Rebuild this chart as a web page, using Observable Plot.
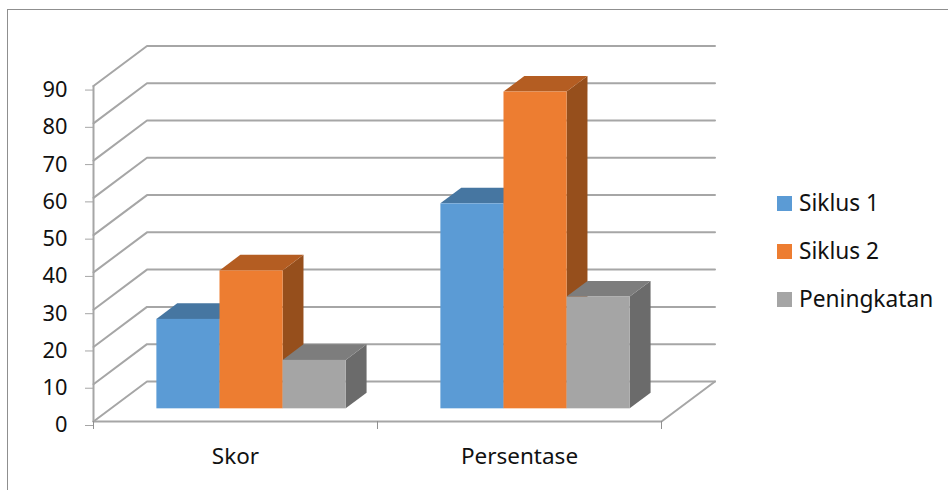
<!DOCTYPE html>
<html>
<head>
<meta charset="utf-8">
<script src="https://cdn.jsdelivr.net/npm/d3@7"></script>
<script src="https://cdn.jsdelivr.net/npm/@observablehq/plot@0.6"></script>
<style>
  html, body { margin: 0; padding: 0; background: #fff; }
  #chart { position: relative; width: 948px; height: 490px; overflow: hidden; font-family: "Noto Sans", sans-serif; }
  #chart svg { position: absolute; left: 0; top: 0; }
  #frame { position: absolute; left: 7px; top: 9px; width: 950px; height: 490px; border: 1px solid #8f8f8f; }
  .key { position: absolute; left: 777px; height: 15px; }
  .key i { position: absolute; left: 0; top: 0; width: 15px; height: 15px; }
  .key span { position: absolute; left: 22px; top: -8px; font-size: 22.7px; line-height: 30px; color: #111; white-space: nowrap; }
</style>
</head>
<body>
<div id="chart"><div id="frame"></div></div>
<script>
const categories = ["Skor", "Persentase"];
const seriesNames = ["Siklus 1", "Siklus 2", "Peningkatan"];
const siklus1 = [24, 55];
const siklus2 = [37, 85];
const peningkatan = [13, 30];
const yTicks = [0, 10, 20, 30, 40, 50, 60, 70, 80, 90];

const frontColors = ["#5b9bd5", "#ed7d31", "#a5a5a5"];
const topColors = ["#4676a1", "#b45d22", "#7d7d7d"];
const sideColors = ["#3d6a92", "#964f1c", "#6b6b6b"];

// Oblique projection: moving one unit back in depth shifts by these amounts in data units.
const depthX = 0.1884;
const depthY = 10.75;
const barFront = 0.3;
const barBack = 0.69;
const barLift = 3.4;
const barWidth = 2 / 9;
const groupMargin = 1 / 6;

const series = [siklus1, siklus2, peningkatan];

// Wall and floor lines: side wall diagonal followed by the back wall run.
const gridPoints = yTicks.flatMap((v) => [
  {x: 0, y: v, z: v},
  {x: depthX, y: v + depthY, z: v},
  {x: categories.length + depthX, y: v + depthY, z: v}
]);
const floorEdge = [
  {x: 0, y: 0},
  {x: categories.length, y: 0},
  {x: categories.length + depthX, y: depthY}
];
const valueAxisLine = [
  {x: 0, y: 0},
  {x: 0, y: 90}
];

// One 3D column: side face, top face, then front face, painted back to front.
function columnMarks(value, s, c) {
  const x1 = c + groupMargin + s * barWidth;
  const x2 = x1 + barWidth;
  const fx = barFront * depthX, bx = barBack * depthX;
  const fy = barLift, by = barLift + (barBack - barFront) * depthY;
  const side = [
    {x1: x2 + fx, y1: fy, x2: x2 + fx, y2: fy + value},
    {x1: x2 + bx, y1: by, x2: x2 + bx, y2: by + value}
  ];
  const top = [
    {x1: x1 + fx, y1: fy + value, x2: x2 + fx, y2: fy + value},
    {x1: x1 + bx, y1: by + value, x2: x2 + bx, y2: by + value}
  ];
  const faceOpts = {x1: "x1", y1: "y1", x2: "x2", y2: "y2"};
  return [
    Plot.area(side, {...faceOpts, fill: sideColors[s]}),
    Plot.area(top, {...faceOpts, fill: topColors[s]}),
    Plot.rect([{}], {
      x1: () => x1 + fx, x2: () => x2 + fx,
      y1: () => fy, y2: () => fy + value,
      fill: frontColors[s]
    })
  ];
}

const columns = categories.flatMap((_, c) =>
  series.flatMap((values, s) => columnMarks(values[c], s, c))
);

const gridStyle = {stroke: "#a6a6a6", strokeWidth: 2};

const plot = Plot.plot({
  width: 948,
  height: 490,
  margin: 0,
  style: {background: "transparent", fontFamily: '"Noto Sans", sans-serif'},
  x: {type: "linear", domain: [0, 2 + depthX], range: [93, 714.5]},
  y: {domain: [0, 90 + depthY], range: [421, 45.5]},
  marks: [
    Plot.line(gridPoints, {x: "x", y: "y", z: "z", ...gridStyle}),
    Plot.line(floorEdge, {x: "x", y: "y", ...gridStyle}),
    Plot.line(valueAxisLine, {x: "x", y: "y", ...gridStyle}),
    Plot.axisY(yTicks, {
      anchor: "left", x: 0, label: null, tickSize: 8, tickPadding: 18, stroke: "#a6a6a6",
      fontSize: 21.8, fill: "#111", dy: 4, tickFormat: (d) => d
    }),
    Plot.axisX([0, 1, 2], {
      anchor: "bottom", y: 0, label: null, tickSize: 8, stroke: "#8f8f8f", tickFormat: () => ""
    }),
    Plot.axisX([0.5, 1.5], {
      anchor: "bottom", y: 0, label: null, tickSize: 0, tickPadding: 27, fontSize: 22.5, fill: "#111",
      tickFormat: (d) => categories[Math.floor(d)]
    }),
    ...columns
  ]
});

const chart = document.getElementById("chart");
chart.appendChild(plot);

// Colour key beside the plot.
seriesNames.forEach((name, i) => {
  const key = document.createElement("div");
  key.className = "key";
  key.style.top = 196 + i * 48 + "px";
  const swatch = document.createElement("i");
  swatch.style.background = frontColors[i];
  const label = document.createElement("span");
  label.textContent = name;
  key.append(swatch, label);
  chart.appendChild(key);
});
</script>
</body>
</html>
